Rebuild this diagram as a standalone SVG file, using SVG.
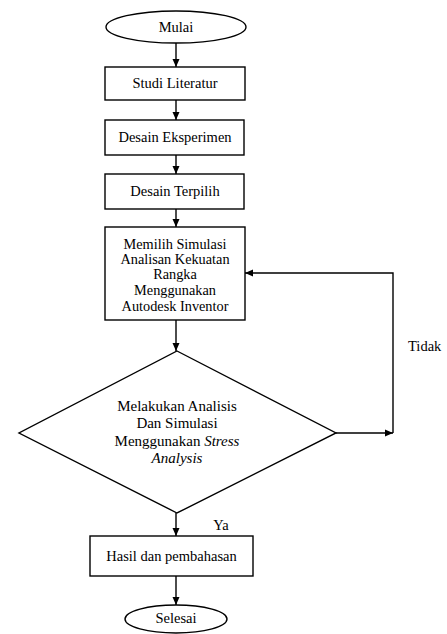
<svg xmlns="http://www.w3.org/2000/svg" width="447" height="634" viewBox="0 0 447 634">
<defs>
<marker id="ah" markerWidth="8" markerHeight="8" refX="8" refY="4" orient="auto" markerUnits="userSpaceOnUse">
<path d="M0,0.5 L8,4 L0,7.5 Z" fill="#000"/>
</marker>
<style>
.s{fill:#fff;stroke:#000;stroke-width:1.4}
.c{fill:none;stroke:#000;stroke-width:1.4;marker-end:url(#ah)}
.t{font-family:"Liberation Serif","Times New Roman",serif;font-size:14.5px;fill:#000;text-anchor:middle}
.d{font-size:15px}
.m{font-size:14.3px}
</style>
</defs>
<rect width="447" height="634" fill="#fff"/>
<g id="connectors">
<line class="c" x1="176" y1="43" x2="176" y2="67"/>
<line class="c" x1="176" y1="100" x2="176" y2="120"/>
<line class="c" x1="176" y1="155" x2="176" y2="174"/>
<line class="c" x1="176" y1="209" x2="176" y2="227"/>
<line class="c" x1="176" y1="320" x2="176" y2="351"/>
<line class="c" x1="336" y1="433" x2="393" y2="433"/>
<polyline class="c" points="393,433 393,273 245,273"/>
<line class="c" x1="176" y1="513" x2="176" y2="536"/>
<line class="c" x1="176" y1="576" x2="176" y2="605"/>
<text class="t" x="408" y="351" style="text-anchor:start">Tidak</text>
<text class="t" x="221" y="530">Ya</text>
</g>
<g id="mulai">
<ellipse class="s" cx="176" cy="27" rx="70" ry="16"/>
<text class="t" x="176" y="32">Mulai</text>
</g>
<g id="studi">
<rect class="s" x="105" y="67" width="140" height="33"/>
<text class="t" x="175" y="88">Studi Literatur</text>
</g>
<g id="desain-eksperimen">
<rect class="s" x="105" y="120" width="139" height="35"/>
<text class="t" x="175" y="142">Desain Eksperimen</text>
</g>
<g id="desain-terpilih">
<rect class="s" x="105" y="174" width="139" height="35"/>
<text class="t" x="175" y="196">Desain Terpilih</text>
</g>
<g id="memilih">
<rect class="s" x="105" y="227" width="140" height="93"/>
<text class="t m" x="175" y="249">Memilih Simulasi</text>
<text class="t m" x="175" y="264">Analisan Kekuatan</text>
<text class="t m" x="175" y="279">Rangka</text>
<text class="t m" x="175" y="295">Menggunakan</text>
<text class="t m" x="175" y="311">Autodesk Inventor</text>
</g>
<g id="analisis">
<polygon class="s" points="177,351 336,433 177,513 19,433"/>
<text class="t d" x="177" y="411">Melakukan Analisis</text>
<text class="t d" x="177" y="428">Dan Simulasi</text>
<text class="t d" x="177" y="446">Menggunakan <tspan font-style="italic">Stress</tspan></text>
<text class="t d" x="177" y="463" font-style="italic">Analysis</text>
</g>
<g id="hasil">
<rect class="s" x="90" y="536" width="163" height="40"/>
<text class="t" x="171.5" y="561">Hasil dan pembahasan</text>
</g>
<g id="selesai">
<ellipse class="s" cx="176" cy="619" rx="51" ry="14"/>
<text class="t" x="176" y="623">Selesai</text>
</g>
</svg>
